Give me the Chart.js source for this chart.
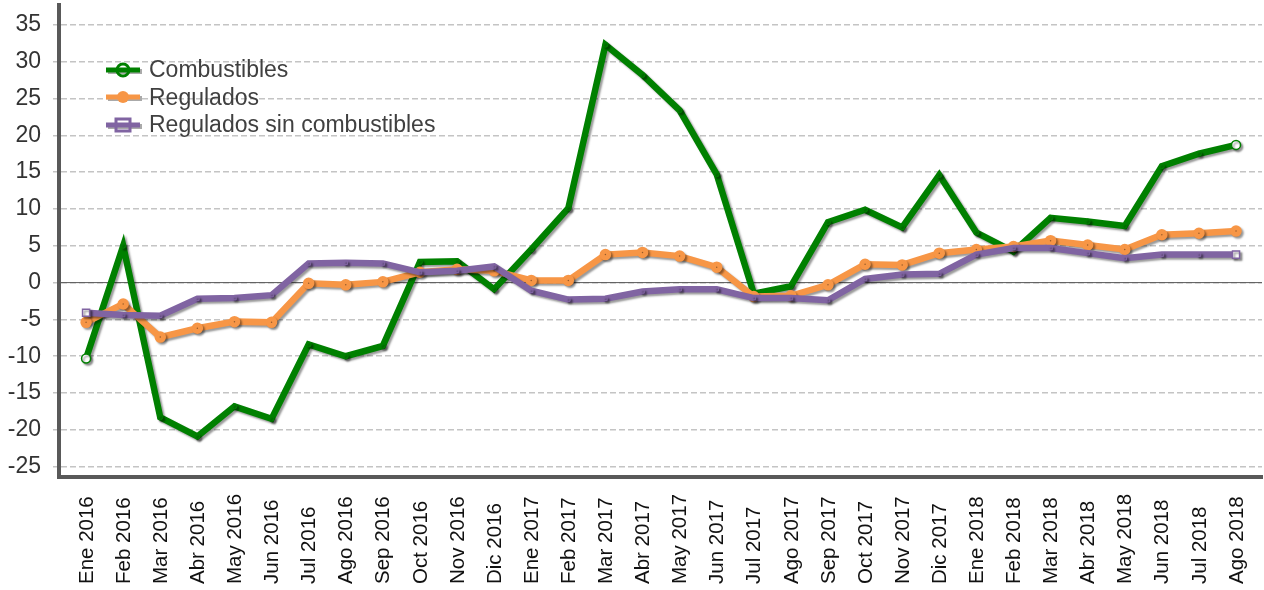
<!DOCTYPE html>
<html>
<head>
<meta charset="utf-8">
<script src="https://cdn.jsdelivr.net/npm/chart.js@4"></script>
<style>
  html, body { margin: 0; padding: 0; background: #fff; }
  #wrap { position: relative; width: 1264px; height: 590px; }
  #legend { position: absolute; left: 105px; top: 56px; font-family: "Liberation Sans", Arial, sans-serif; font-size: 23px; color: #404040; }
  #legend div { height: 27.5px; line-height: 27.5px; display: flex; align-items: center; }
  #legend svg { margin-right: 6px; }
</style>
</head>
<body>
<div id="wrap">
  <canvas id="myChart" width="1264" height="590"></canvas>
  <div id="legend"></div>
</div>
<script>
// monthly series, Ene 2016 - Ago 2018
const months = ['Ene 2016','Feb 2016','Mar 2016','Abr 2016','May 2016','Jun 2016','Jul 2016','Ago 2016','Sep 2016','Oct 2016','Nov 2016','Dic 2016',
  'Ene 2017','Feb 2017','Mar 2017','Abr 2017','May 2017','Jun 2017','Jul 2017','Ago 2017','Sep 2017','Oct 2017','Nov 2017','Dic 2017',
  'Ene 2018','Feb 2018','Mar 2018','Abr 2018','May 2018','Jun 2018','Jul 2018','Ago 2018'];

const combustibles = [-10.3, 5.0, -18.3, -20.9, -16.8, -18.5, -8.4, -10.0, -8.6, 2.8, 2.9, -0.9,
  4.5, 10.1, 32.3, 28.2, 23.4, 14.7, -1.5, -0.5, 8.2, 9.9, 7.5, 14.6,
  6.8, 4.2, 8.8, 8.3, 7.7, 15.8, 17.5, 18.7];
const regulados = [-5.4, -2.9, -7.4, -6.2, -5.3, -5.4, -0.1, -0.3, 0.1, 1.4, 1.8, 1.6,
  0.3, 0.3, 3.8, 4.1, 3.6, 2.1, -1.9, -1.8, -0.3, 2.5, 2.4, 4.0,
  4.5, 4.9, 5.7, 5.1, 4.5, 6.5, 6.7, 7.0];
const reguladosSinComb = [-4.1, -4.4, -4.5, -2.2, -2.1, -1.7, 2.6, 2.7, 2.6, 1.4, 1.6, 2.2,
  -1.1, -2.3, -2.2, -1.2, -0.9, -0.9, -2.1, -2.1, -2.4, 0.5, 1.1, 1.2,
  3.8, 4.7, 4.7, 4.0, 3.3, 3.8, 3.8, 3.8];
const yTicks = [-25, -20, -15, -10, -5, 0, 5, 10, 15, 20, 25, 30, 35];

const seriesNames = ['Combustibles', 'Regulados', 'Regulados sin combustibles'];
const colors = ['#008000', '#f79646', '#8064a2'];

const toPoints = arr => arr.map((v, i) => ({x: i, y: v}));
const lastIdx = months.length - 1;
const isEnd = ctx => ctx.dataIndex === 0 || ctx.dataIndex === lastIdx;

// gray drop shadow under the lines
const shadowPlugin = {
  id: 'shadow',
  beforeDatasetDraw(chart) {
    const c = chart.ctx;
    c.save();
    c.shadowColor = 'rgba(0,0,0,0.4)';
    c.shadowOffsetX = 2;
    c.shadowOffsetY = 2;
    c.shadowBlur = 2;
  },
  afterDatasetDraw(chart) { chart.ctx.restore(); }
};

// solid zero line + month labels reading upwards, bottom aligned
const axisPlugin = {
  id: 'axisExtras',
  beforeDatasetsDraw(chart) {
    const c = chart.ctx, y = chart.scales.y.getPixelForValue(0), a = chart.chartArea;
    c.save();
    c.strokeStyle = '#595959';
    c.lineWidth = 1;
    c.beginPath(); c.moveTo(a.left, y); c.lineTo(a.right, y); c.stroke();
    c.restore();
  },
  afterDraw(chart) {
    const c = chart.ctx, xs = chart.scales.x;
    c.save();
    c.font = '20.5px "Liberation Sans", Arial, sans-serif';
    c.fillStyle = '#111';
    c.textAlign = 'left';
    c.textBaseline = 'middle';
    months.forEach((m, i) => {
      c.save();
      c.translate(xs.getPixelForValue(i) + 1, 584);
      c.rotate(-Math.PI / 2);
      c.fillText(m, 0, 0);
      c.restore();
    });
    c.restore();
  }
};

const ctx = document.querySelector('#myChart');
const myChart = new Chart(ctx, {
  type: 'line',
  data: {
    datasets: [{
      label: seriesNames[0],
      data: toPoints(combustibles),
      borderColor: colors[0],
      backgroundColor: c => isEnd(c) ? '#ffffff' : colors[0],
      pointBorderColor: colors[0],
      pointRadius: c => isEnd(c) ? 4.5 : 2.5,
      pointBorderWidth: c => isEnd(c) ? 1.5 : 1,
      borderWidth: 6.5,
      order: 3
    }, {
      label: seriesNames[1],
      data: toPoints(regulados),
      borderColor: colors[1],
      backgroundColor: colors[1],
      pointRadius: 2.5,
      borderWidth: 6.5,
      order: 2
    }, {
      label: seriesNames[2],
      data: toPoints(reguladosSinComb),
      borderColor: colors[2],
      backgroundColor: c => isEnd(c) ? '#ffffff' : colors[2],
      pointStyle: 'rect',
      pointRadius: c => isEnd(c) ? 5 : 2.5,
      pointBorderWidth: c => isEnd(c) ? 1.5 : 1,
      borderWidth: 6.5,
      order: 1
    }]
  },
  options: {
    responsive: false,
    animation: false,
    events: [],
    layout: { autoPadding: false, padding: { top: 5, right: 2 } },
    elements: { line: { tension: 0 } },
    plugins: { legend: { display: false }, tooltip: { enabled: false } },
    scales: {
      x: {
        type: 'linear',
        min: -0.73,
        max: 31.7,
        grid: { display: false },
        ticks: { display: false },
        border: { color: '#595959', width: 4 },
        afterFit: s => { s.height = 113; s.paddingLeft = 0; s.paddingRight = 0; }
      },
      y: {
        min: -26.4,
        max: 37.7,
        afterBuildTicks: s => { s.ticks = yTicks.map(v => ({value: v})); },
        grid: { color: '#c4c4c4', lineWidth: 1.5, tickLength: 6 },
        border: { color: '#595959', width: 4, dash: [6, 3] },
        ticks: { color: '#333', padding: 12, font: { family: '"Liberation Sans", Arial, sans-serif', size: 23 } },
        afterFit: s => { s.width = 59; s.paddingTop = 0; s.paddingBottom = 0; }
      }
    }
  },
  plugins: [shadowPlugin, axisPlugin]
});

// legend inside the plot, top left
const markers = [
  '<circle cx="18" cy="10" r="6" fill="none" stroke="#008000" stroke-width="3"/>',
  '<circle cx="18" cy="10" r="6" fill="#f79646"/>',
  '<rect x="11" y="4" width="14" height="12" fill="none" stroke="#8064a2" stroke-width="3"/>'
];
document.querySelector('#legend').innerHTML = seriesNames.map((name, i) =>
  '<div><svg width="38" height="20"><line x1="3" y1="11.5" x2="37" y2="11.5" stroke="#aaa" stroke-width="5"/>' +
  '<line x1="1" y1="10" x2="35" y2="10" stroke="' + colors[i] + '" stroke-width="5"/>' + markers[i] +
  '</svg>' + name + '</div>').join('');
</script>
</body>
</html>
